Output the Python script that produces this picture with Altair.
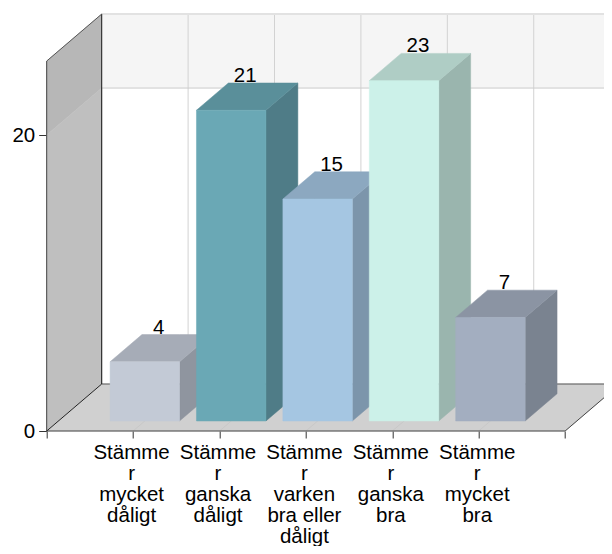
import altair as alt
import pandas as pd

categories = ["Stämme|r|mycket|dåligt", "Stämme|r|ganska|dåligt", "Stämme|r|varken|bra eller|dåligt",
              "Stämme|r|ganska|bra", "Stämme|r|mycket|bra"]
values = [4, 21, 15, 23, 7]
front_colors = ["#c3cad6", "#6aa8b5", "#a5c6e2", "#ccf1e9", "#a3aec0"]
top_colors = ["#a6acb7", "#5a8f9a", "#8ca8c0", "#afcdc5", "#8b94a3"]
side_colors = ["#8f959f", "#4f7c87", "#7c95ab", "#9ab5ae", "#7a8390"]
y_ticks = [0, 20]
y_max = 25
n_slots = 6

# projection of chart depth (0..1) on the x and y scales
KX, KY = 0.6366, 3.176
D1, DD = 0.2128, 0.58
BAR_W = 0.804
X_END = 6.45
Y_END = 28.18

x_scale = alt.Scale(domain=[0, X_END], nice=False, zero=False)
y_scale = alt.Scale(domain=[0, Y_END], nice=False, zero=False)
label_list = "['','" + "','".join(categories) + "','']"
x_axis = alt.Axis(
    values=list(range(n_slots + 1)), title=None, grid=False, domain=False, tickSize=7, tickColor="#333333",
    labelFontSize=20.5, labelFont="Liberation Sans", labelColor="#000000", labelLineHeight=21,
    labelPadding=4, labelOffset=-2, labelFlush=False, labelOverlap=False, labelBound=False,
    labelExpr="split(" + label_list + "[datum.value],'|')")
y_axis = alt.Axis(
    values=y_ticks, title=None, grid=False, domain=False, tickSize=8, tickColor="#333333",
    labelFontSize=20.5, labelFont="Liberation Sans", labelColor="#000000", labelPadding=4,
    labelOverlap=False, labelBound=False, labelFlush=False, format="d")
x_enc = alt.X("x:Q", scale=x_scale, axis=x_axis)
y_enc = alt.Y("y:Q", scale=y_scale, axis=y_axis)


def poly(rows, color):
    return alt.Chart(pd.DataFrame(rows, columns=["x", "y", "y2"])).mark_area(
        color=color, opacity=1, stroke=color, strokeWidth=0.5
    ).encode(x=x_enc, y=y_enc, y2="y2:Q")


# walls and floor
layers = [
    poly([[0, 20, y_max], [KX, 20 + KY, y_max + KY]], "#b7b7b7"),
    poly([[0, 0, 20], [KX, KY, 20 + KY]], "#bfbfbf"),
    poly([[KX, 20 + KY, y_max + KY], [X_END, 20 + KY, y_max + KY]], "#f5f5f5"),
    poly([[0, 0, 0], [KX, 0, KY], [n_slots, 0, KY], [X_END, (X_END - n_slots) / KX * KY, KY]], "#d0d0d0"),
]

rules = []
for i in range(1, n_slots):
    rules.append([i + KX, KY, i + KX, y_max + KY, "#d2d2d2", 1])
rules.append([KX, 20 + KY, X_END, 20 + KY, "#cccccc", 1])
rules.append([KX, y_max + KY, X_END, y_max + KY, "#e2e2e2", 2])
for i in range(1, n_slots):
    rules.append([i, 0, i + KX, KY, "#c8c8c8", 1])
rules.append([0, 0, n_slots, 0, "#444444", 1])
rules.append([KX, KY, X_END, KY, "#555555", 1])
rules.append([KX, KY, KX, y_max + KY, "#111111", 1])
rules.append([0, 0, 0, y_max, "#444444", 1])
rules.append([0, y_max, KX, y_max + KY, "#555555", 1])
rules.append([0, 0, KX, KY, "#222222", 1])
rules.append([n_slots, 0, X_END, (X_END - n_slots) / KX * KY, "#444444", 1])
rule_df = pd.DataFrame(rules, columns=["x", "y", "x2", "y2", "c", "w"])
layers.append(alt.Chart(rule_df).mark_rule().encode(
    x=x_enc, y=y_enc, x2="x2:Q", y2="y2:Q",
    color=alt.Color("c:N", scale=None), strokeWidth=alt.StrokeWidth("w:Q", scale=None)))

# bars
for i, v in enumerate(values):
    c = i + 1
    a = c - BAR_W / 2 + D1 * KX
    b = c + BAR_W / 2 + D1 * KX
    dx = DD * KX
    yf0 = D1 * KY
    yf = v + yf0
    dy = DD * KY
    layers.append(poly([[b, yf0, yf], [b + dx, yf0 + dy, yf + dy]], side_colors[i]))
    layers.append(poly([[a, yf, yf], [a + dx, yf, yf + dy], [b, yf, yf + dy], [b + dx, yf + dy, yf + dy]], top_colors[i]))
    layers.append(poly([[a, yf0, yf], [b, yf0, yf]], front_colors[i]))

# value labels
lab = pd.DataFrame({
    "x": [i + 1 + (D1 + DD / 2) * KX for i in range(len(values))],
    "y": [v + (D1 + DD) * KY for v in values],
    "t": [str(v) for v in values],
})
layers.append(alt.Chart(lab).mark_text(fontSize=20.5, font="Liberation Sans", color="#000000",
                                       baseline="alphabetic", dx=-2, dy=-1).encode(x=x_enc, y=y_enc, text="t:N"))

chart = alt.layer(*layers).properties(
    width=557.3, height=417,
    autosize=alt.AutoSizeParams(type="none"),
    padding={"left": 38.7, "top": 6, "right": 0, "bottom": 115},
).configure_view(stroke=None)

chart.save("out.html", embed_options={"renderer": "svg", "actions": False})
